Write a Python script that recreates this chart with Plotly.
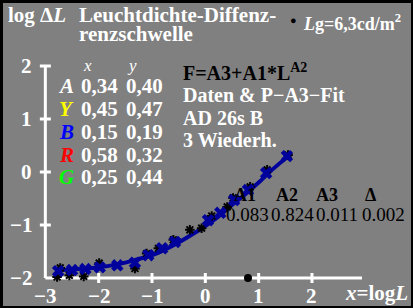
import plotly.graph_objects as go

# ---------------- data ----------------
fit_x = [-2.8, -2.5, -2.25, -2.0, -1.75, -1.5, -1.25, -1.0, -0.75, -0.5, -0.25, 0.0, 0.25, 0.5, 0.75, 1.0, 1.25, 1.5, 1.6]
fit_y = [-1.85, -1.84, -1.82, -1.80, -1.76, -1.71, -1.64, -1.57, -1.46, -1.33, -1.18, -1.02, -0.84, -0.62, -0.42, -0.20, 0.04, 0.25, 0.32]

blue_x = [-2.76, -2.50, -2.25, -1.98, -1.65, -1.32, -1.07, -0.81, -0.57, 0.05, 0.28, 0.54, 0.80, 1.14, 1.53]
blue_y = [-1.87, -1.85, -1.83, -1.80, -1.76, -1.71, -1.57, -1.44, -1.32, -0.91, -0.77, -0.53, -0.34, -0.02, 0.30]

black_x = [-2.78, -2.72, -2.55, -2.28, -1.99, -1.32, -1.10, -0.88, -0.60, -0.29, -0.07, 0.12, 0.41, 0.52, 0.84, 1.16, 1.55]
black_y = [-1.98, -1.81, -1.95, -1.97, -1.72, -1.82, -1.54, -1.44, -1.28, -1.09, -1.06, -0.83, -0.66, -0.49, -0.28, 0.04, 0.32]

x_ticks = [-3, -2, -1, 0, 1, 2]
x_tick_labels = ["−3", "−2", "−1", "0", "1", "2"]
y_ticks = [-2, -1, 0, 1, 2]
y_tick_labels = ["−2", "−1", "0", "1", "2"]

adapt_x = [0.8]          # log10(6.3)
adapt_y = [-2]

legend_letters = ["A", "Y", "B", "R", "G"]
legend_colors = ["#ffffff", "#ffff00", "#0000ff", "#ff0000", "#00ff00"]
legend_xv = ["0,34", "0,45", "0,15", "0,58", "0,25"]
legend_yv = ["0,40", "0,47", "0,19", "0,32", "0,44"]

param_names = ["A1", "A2", "A3", "Δ"]
param_values = ["0.083", "0.824", "0.011", "0.002"]

# ---------------- geometry (pixel helpers) ----------------
W, H = 413, 308
ML, MR, MT, MB = 3, 2, 3, 2
X0PX, XUNIT = 205.33, 53.33
Y0PX, YUNIT = 172.0, 53.0


def dx(px):
    return (px - X0PX) / XUNIT


def dy(py):
    return (Y0PX - py) / YUNIT


XR = [dx(ML), dx(W - MR)]
YR = [dy(H - MB), dy(MT)]

FONT = "Liberation Serif"
BLUE = "#00009c"

fig = go.Figure()

# fit curve
fig.add_trace(go.Scatter(x=fit_x, y=fit_y, mode="lines",
                         line=dict(color=BLUE, width=4, shape="spline"),
                         hoverinfo="skip", showlegend=False))
# black data markers
fig.add_trace(go.Scatter(x=black_x, y=black_y, mode="markers",
                         marker=dict(symbol="asterisk-open", size=8, color="black",
                                     line=dict(color="black", width=2)),
                         showlegend=False))
# blue markers
fig.add_trace(go.Scatter(x=blue_x, y=blue_y, mode="markers",
                         marker=dict(symbol="x", size=11, color=BLUE,
                                     line=dict(width=0)),
                         showlegend=False))
# adaptation dot on axis
fig.add_trace(go.Scatter(x=adapt_x, y=adapt_y, mode="markers",
                         marker=dict(symbol="circle", size=8, color="black"),
                         showlegend=False))

shapes = []
# axes lines
shapes.append(dict(type="line", xref="x", yref="y", x0=-3, x1=dx(362), y0=-2, y1=-2,
                   line=dict(color="white", width=3), layer="below"))
shapes.append(dict(type="line", xref="x", yref="y", x0=-3, x1=-3, y0=-2, y1=2,
                   line=dict(color="white", width=3), layer="below"))
tx = 5.5 / XUNIT
ty = 5.0 / YUNIT
for v in x_ticks[1:]:
    shapes.append(dict(type="line", xref="x", yref="y", x0=v, x1=v, y0=-2 - ty, y1=-2 + ty,
                       line=dict(color="white", width=3), layer="below"))
for v in y_ticks[1:]:
    shapes.append(dict(type="line", xref="x", yref="y", x0=-3 - tx, x1=-3 + tx, y0=v, y1=v,
                       line=dict(color="white", width=3), layer="below"))

ann = []


def text(px, py, s, size=16, color="white", anchor="left", bold=True, italic=False, valign="middle"):
    t = s
    if bold:
        t = "<b>" + t + "</b>"
    if italic:
        t = "<i>" + t + "</i>"
    ann.append(dict(x=dx(px), y=dy(py), xref="x", yref="y", text=t, showarrow=False,
                     xanchor=anchor, yanchor=valign,
                     font=dict(family=FONT, size=size, color=color)))


# tick labels
for v, lab in zip(x_ticks, x_tick_labels):
    ann.append(dict(x=v, y=dy(296), xref="x", yref="y", text="<b>" + lab + "</b>",
                    showarrow=False, xanchor="center", yanchor="middle",
                    font=dict(family=FONT, size=21, color="white")))
for v, lab in zip(y_ticks, y_tick_labels):
    ann.append(dict(x=dx(34), y=v, xref="x", yref="y", text="<b>" + lab + "</b>",
                    showarrow=False, xanchor="right", yanchor="middle",
                    font=dict(family=FONT, size=21, color="white")))

# axis titles
text(410, 293, "<i>x</i>=log<i>L</i>", size=21, anchor="right")
text(6, 15, "log Δ<i>L</i>", size=21)
text(77, 15, "Leuchtdichte-Diffenz-", size=21)
text(77, 34, "renzschwelle", size=21)

# adaptation label
ann.append(dict(x=dx(293), y=dy(20), xref="x", yref="y", text="●", showarrow=False,
                xanchor="center", yanchor="middle",
                font=dict(family=FONT, size=11, color="black")))
text(301, 22, "<i>L</i>g=6,3cd/m<sup>2</sup>", size=18, bold=True)

# legend table
text(87, 65, "x", size=17, bold=False, italic=True, anchor="center")
text(132, 65, "y", size=17, bold=False, italic=True, anchor="center")
row_y = [86, 109, 132, 155, 177]
for ry, let, col, xv, yv in zip(row_y, legend_letters, legend_colors, legend_xv, legend_yv):
    text(66, ry, let, size=21, color=col, italic=True, anchor="center")
    text(99, ry, xv, size=21, anchor="center")
    text(144, ry, yv, size=21, anchor="center")

# fit description
text(181, 72, "F=A3+A1*L<sup>A2</sup>", size=20, color="black")
text(181, 95, "Daten &amp; P−A3−Fit", size=20)
text(181, 118, "AD 26s B", size=20)
text(181, 140, "3 Wiederh.", size=20)

# parameters
name_px = [245, 287, 327, 370]
val_px = [247, 292, 337, 383]
for p, n in zip(name_px, param_names):
    text(p, 195, n, size=18, color="black", anchor="center")
for p, v in zip(val_px, param_values):
    text(p, 214, v, size=19, color="black", bold=False, anchor="center")

fig.update_layout(
    width=W, height=H,
    margin=dict(l=ML, r=MR, t=MT, b=MB),
    paper_bgcolor="black",
    plot_bgcolor="#808080",
    xaxis=dict(range=XR, visible=False, fixedrange=True),
    yaxis=dict(range=YR, visible=False, fixedrange=True),
    shapes=shapes,
    annotations=ann,
    showlegend=False,
)

fig.write_html("out.html",
               config=dict(displayModeBar=False, staticPlot=True),
               post_script="document.body.style.margin='0px';document.body.style.padding='0px';"
                           "document.body.style.background='black';")
